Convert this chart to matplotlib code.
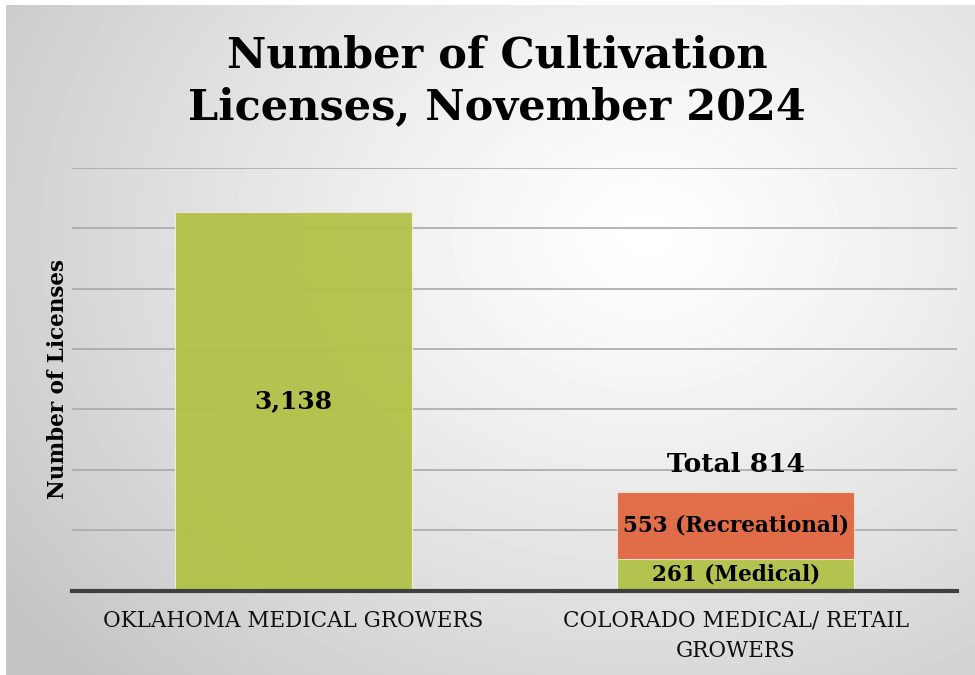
import numpy as np
import matplotlib.pyplot as plt

categories = ["OKLAHOMA MEDICAL GROWERS", "COLORADO MEDICAL/ RETAIL\nGROWERS"]
medical = [3138, 261]
recreational = [0, 553]
seg_labels_med = ["3,138", "261 (Medical)"]
seg_labels_rec = [None, "553 (Recreational)"]

green = "#b2c147"
orange = "#e0673f"
serif = ["DejaVu Serif"]

fig = plt.figure(figsize=(9.75, 6.75), dpi=100)
fig.patch.set_facecolor("white")

# radial grey-to-white backdrop
bg = fig.add_axes([6 / 975, 0, 1 - 6 / 975, 1 - 5 / 675])
W, H = 969, 670
yy, xx = np.mgrid[0:H, 0:W]
r = np.hypot((xx - 640) / 700.0, (yy - 230) / 560.0)
shade = np.clip(1.0 - 0.2 * r ** 1.2, 0.77, 1.0)
bg.imshow(shade, cmap="gray", vmin=0, vmax=1, aspect="auto", interpolation="bilinear")
bg.set_axis_off()

ax = fig.add_axes([72 / 975, 1 - 590.5 / 675, 885 / 975, (590.5 - 168) / 675])
ax.set_facecolor("none")
x = np.arange(len(categories))
width = 0.535

ax.bar(x, medical, width, color=green, alpha=0.95, edgecolor="#eef2d8", linewidth=0.8, zorder=3)
ax.bar(x, recreational, width, bottom=medical, color=orange, alpha=0.95,
       edgecolor="#f6ddd2", linewidth=0.8, zorder=3)

ax.set_xlim(-0.5, 1.5)
ax.set_ylim(0, 3500)
ax.set_yticks(np.arange(500, 3501, 500))
ax.yaxis.grid(True, color="#a9a9a9", linewidth=1.2, zorder=0)
ax.tick_params(axis="y", length=0, labelleft=False)
ax.tick_params(axis="x", length=0, pad=14)
ax.set_xticks(x)
ax.set_xticklabels(categories, fontsize=15.5, family=serif, color="#111111", linespacing=1.45)
for s in ["top", "right", "left"]:
    ax.spines[s].set_visible(False)
ax.spines["bottom"].set_color("#404040")
ax.spines["bottom"].set_linewidth(3)
ax.spines["bottom"].set_zorder(5)

# value labels inside the bars
for i in range(len(categories)):
    fs = 18 if i == 0 else 15.5
    ax.text(x[i], medical[i] / 2, seg_labels_med[i], ha="center", va="center",
            fontsize=fs, fontweight="bold", family=serif, zorder=6)
    if seg_labels_rec[i]:
        ax.text(x[i], medical[i] + recreational[i] / 2, seg_labels_rec[i], ha="center",
                va="center", fontsize=15.5, fontweight="bold", family=serif, zorder=6)

total = medical[1] + recreational[1]
ax.text(x[1], total + 230, f"Total {total}", ha="center", va="center",
        fontsize=19, fontweight="bold", family=serif, zorder=6)

ax.set_ylabel("Number of Licenses", fontsize=15.5, fontweight="bold", family=serif, labelpad=2)

fig.text(0.51, 1 - 81 / 675, "Number of Cultivation\nLicenses, November 2024", ha="center",
         va="center", fontsize=31, fontweight="bold", family=serif, linespacing=1.3)

fig.savefig("out.png", dpi=100)
